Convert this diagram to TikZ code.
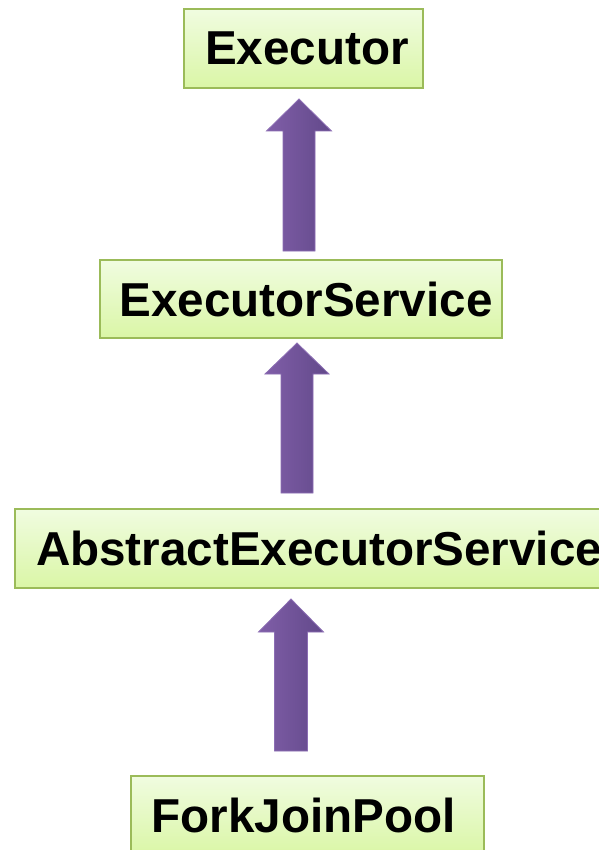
\documentclass[tikz,border=0pt]{standalone}
\usepackage{fontspec}
\setmainfont{Liberation Sans}
\usetikzlibrary{calc}
\definecolor{boxtop}{RGB}{240,252,224}
\definecolor{boxbottom}{RGB}{218,246,166}
\definecolor{boxline}{RGB}{155,187,89}
\definecolor{arrowleft}{RGB}{128,94,168}
\definecolor{arrowright}{RGB}{98,73,138}
\definecolor{arrowline}{RGB}{140,110,180}
\tikzset{
  classbox/.style={draw=boxline, line width=2pt, top color=boxtop, bottom color=boxbottom,
    inner sep=0pt, font=\fontsize{47.6}{50}\selectfont\bfseries},
  blockarrow/.style={draw=arrowline, line width=0.8pt, left color=arrowleft, right color=arrowright}
}
% block arrow: #1 tip, #2 shaft bottom (centre), #3 head half-width, #4 shaft half-width, #5 head length
\newcommand{\upblock}[5]{%
  \path[blockarrow]
    let \p1=(#1), \p2=(#2) in
    (\x1,\y1) -- (\x1+#3,\y1-#5) -- (\x1+#4,\y1-#5) -- (\x1+#4,\y2)
    -- (\x1-#4,\y2) -- (\x1-#4,\y1-#5) -- (\x1-#3,\y1-#5) -- cycle;}
\begin{document}
\begin{tikzpicture}[x=1pt,y=1pt]
\useasboundingbox (0,0) rectangle (598,-850);
\fill[white] (0,0) rectangle (598,-850);

\node[classbox, minimum width=239pt, minimum height=79pt] (ex) at (303.5,-48.5) {\hspace*{7pt}Executor};
\node[classbox, minimum width=402pt, minimum height=78pt] (es) at (301,-299) {\hspace*{10pt}ExecutorService};
\node[classbox, minimum width=601pt, minimum height=79pt, text width=601pt, align=left] (aes) at (315.5,-548.5) {\hspace*{21pt}AbstractExecutorService};
\node[classbox, minimum width=353pt, minimum height=79pt] (fjp) at (307.5,-815.5) {ForkJoinPool\hspace*{8pt}};

% inheritance arrows
\coordinate (t1) at ($(ex.south)+(-4.5,-10)$);
\coordinate (b1) at ($(es.north)+(-2,8)$);
\upblock{t1}{b1}{32.5}{16}{32}
\coordinate (t2) at ($(es.south)+(-4,-4)$);
\coordinate (b2) at ($(aes.north)+(-18.5,15)$);
\upblock{t2}{b2}{32}{16}{31}
\coordinate (t3) at ($(aes.south)+(-24.5,-10)$);
\coordinate (b3) at ($(fjp.north)+(-17,24)$);
\upblock{t3}{b3}{32.5}{16.5}{33}
\end{tikzpicture}
\end{document}
